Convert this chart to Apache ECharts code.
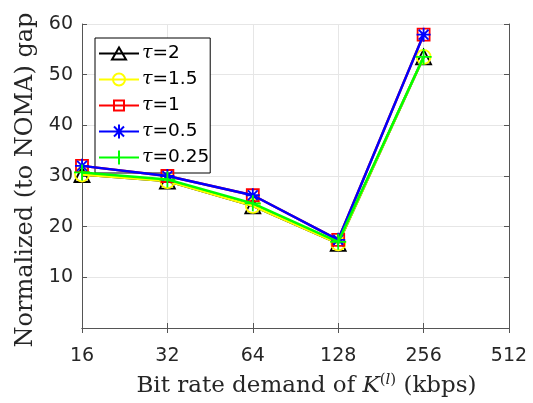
<!DOCTYPE html>
<html><head><meta charset="utf-8">
<script src="https://cdn.jsdelivr.net/npm/echarts@6/dist/echarts.min.js"></script>
<style>html,body{margin:0;padding:0;background:#fff}#c{width:533px;height:403px}</style>
</head><body><div id="c"></div>
<script>
const categories = ['16','32','64','128','256','512'];
const yTicks = [0,10,20,30,40,50,60];
const tau2   = [30.3, 29.0, 24.1, 16.7, 53.5, null];
const tau15  = [30.3, 29.0, 24.1, 16.7, 53.5, null];
const tau1   = [32.0, 30.0, 26.2, 17.4, 57.9, null];
const tau05  = [32.0, 30.0, 26.2, 17.4, 57.9, null];
const tau025 = [30.7, 29.3, 24.6, 17.0, 53.5, null];
const names = ['2','1.5','1','0.5','0.25'];
const colors = ['#000000','#ffff00','#ff0000','#0000ff','#00ff00'];
const seriesData = [tau2, tau15, tau1, tau05, tau025];

const sym = [
  'path://M0,10 L5,0 L10,10 Z',
  'path://M0,5 A5,5 0 1,1 10,5 A5,5 0 1,1 0,5 Z',
  'path://M0,0 L10,0 L10,10 L0,10 Z',
  'path://M0,5 L10,5 M5,0 L5,10 M1.5,1.5 L8.5,8.5 M1.5,8.5 L8.5,1.5',
  'path://M0,5 L10,5 M5,0 L5,10'
];
const symSize = [15, 14, 12, 14, 16];
const legIcon = [
  'path://M0,7 L40,7 M13,13 L20,1 L27,13 Z',
  'path://M0,7 L40,7 M14,7 A6,6 0 1,1 26,7 A6,6 0 1,1 14,7 Z',
  'path://M0,7 L40,7 M15,2 L25,2 L25,12 L15,12 Z',
  'path://M0,7 L40,7 M20,0 L20,14 M15,2 L25,12 M15,12 L25,2',
  'path://M0,7 L40,7 M20,0 L20,14'
];

const axisColor = '#555555';
const tickFont = {fontFamily:'DejaVu Sans', fontSize:19, color:'#262626'};

const series = seriesData.map((d,i)=>({
  name: names[i],
  type: 'line',
  data: d,
  symbol: sym[i],
  symbolSize: symSize[i],
  showAllSymbol: true,
  lineStyle: {color: colors[i], width: 2.5},
  itemStyle: {color: 'transparent', borderColor: colors[i], borderWidth: 1.8},
  emphasis: {disabled: true},
  animation: false,
  z: 2+i
}));

const chart = echarts.init(document.getElementById('c'), null, {renderer:'canvas'});
chart.setOption({
  backgroundColor: '#fff',
  animation: false,
  grid: {left: 82, right: 24, top: 24, bottom: 71, containLabel: false},
  legend: {
    left: 95, top: 38, orient: 'vertical',
    backgroundColor: '#fff', borderColor: '#000', borderWidth: 1,
    padding: [6, 1, 6, 3],
    itemWidth: 40, itemHeight: 14, itemGap: 7,
    selectedMode: false,
    data: names.map((n,i)=>({name:n, icon: legIcon[i],
      itemStyle:{color:'transparent', borderColor: colors[i], borderWidth: 2}})),
    formatter: n => '{t|τ}{n|=' + n + '}',
    textStyle: {
      padding: [0,0,0,-2],
      rich: {
        t: {fontFamily:'DejaVu Serif', fontStyle:'italic', fontSize:19, color:'#000'},
        n: {fontFamily:'DejaVu Sans', fontSize:18.5, color:'#000'}
      }
    }
  },
  xAxis: [{
    type: 'category', data: categories, boundaryGap: false,
    axisLine: {show: true, lineStyle: {color: axisColor, width: 1}},
    axisTick: {show: true, inside: true, length: 5, lineStyle: {color: axisColor}},
    axisLabel: Object.assign({margin: 19}, tickFont),
    splitLine: {show: true, lineStyle: {color: '#e6e6e6', width: 1}},
    name: '{a|Bit rate demand of }{k|K}{s|(}{sl|l}{s|)}{a| (kbps)}',
    nameLocation: 'middle', nameGap: 45,
    nameTextStyle: {
      padding: [0,0,0,22],
      rich: {
        a: {fontFamily:'DejaVu Serif', fontSize:23, color:'#262626'},
        k: {fontFamily:'DejaVu Serif', fontStyle:'italic', fontSize:23, color:'#262626'},
        s: {fontFamily:'DejaVu Serif', fontSize:15, color:'#262626', verticalAlign:'top', padding:[0,0,12,0]},
        sl: {fontFamily:'DejaVu Serif', fontStyle:'italic', fontSize:15, color:'#262626', verticalAlign:'top', padding:[0,0,12,0]}
      }
    }
  },{
    type: 'category', data: categories, boundaryGap: false, position: 'top',
    axisLine: {show: true, lineStyle: {color: axisColor, width: 1}},
    axisTick: {show: true, inside: true, length: 5, lineStyle: {color: axisColor}},
    axisLabel: {show: false}, splitLine: {show: false}
  }],
  yAxis: [{
    type: 'value', min: yTicks[0], max: yTicks[yTicks.length-1], interval: 10,
    axisLine: {show: true, lineStyle: {color: axisColor, width: 1}},
    axisTick: {show: true, inside: true, length: 5, lineStyle: {color: axisColor}},
    axisLabel: Object.assign({margin: 9, formatter: v => v === 0 ? '' : String(v)}, tickFont),
    splitLine: {show: true, lineStyle: {color: '#e6e6e6', width: 1}},
    name: 'Normalized (to NOMA) gap',
    nameLocation: 'middle', nameGap: 44,
    nameTextStyle: {fontFamily:'DejaVu Serif', fontSize:24, color:'#262626', padding:[0,8,0,0]}
  },{
    type: 'value', min: yTicks[0], max: yTicks[yTicks.length-1], interval: 10, position: 'right',
    axisLine: {show: true, lineStyle: {color: axisColor, width: 1}},
    axisTick: {show: true, inside: true, length: 5, lineStyle: {color: axisColor}},
    axisLabel: {show: false}, splitLine: {show: false}
  }],
  series: series
});
</script></body></html>
